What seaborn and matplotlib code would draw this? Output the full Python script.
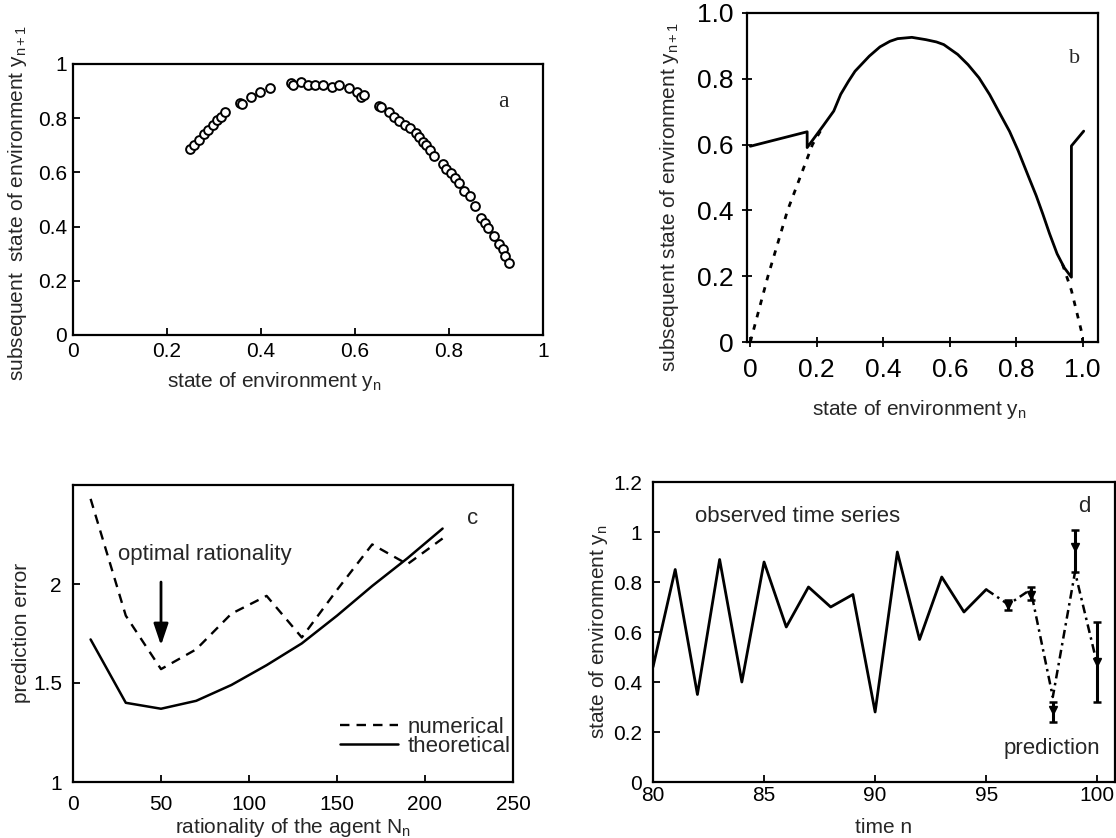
import pandas as pd
import seaborn as sns
import matplotlib.pyplot as plt

# ---- panel a: observed return map (y_n, y_n+1) ----
a_y_n = [0.248, 0.257, 0.269, 0.278, 0.288, 0.298, 0.307, 0.315, 0.324, 0.356,
         0.359, 0.379, 0.398, 0.419, 0.463, 0.468, 0.486, 0.501, 0.514, 0.532,
         0.551, 0.566, 0.587, 0.604, 0.613, 0.619, 0.650, 0.656, 0.673, 0.684,
         0.694, 0.707, 0.718, 0.730, 0.737, 0.745, 0.752, 0.760, 0.768, 0.787,
         0.794, 0.804, 0.813, 0.821, 0.832, 0.844, 0.855, 0.869, 0.877, 0.882,
         0.895, 0.907, 0.915, 0.920, 0.928]
a_y_next = [0.686, 0.700, 0.719, 0.743, 0.756, 0.774, 0.792, 0.805, 0.823, 0.856,
            0.851, 0.880, 0.898, 0.912, 0.929, 0.921, 0.933, 0.923, 0.921, 0.924,
            0.914, 0.923, 0.912, 0.896, 0.878, 0.886, 0.844, 0.841, 0.823, 0.804,
            0.790, 0.774, 0.762, 0.746, 0.729, 0.713, 0.701, 0.682, 0.660, 0.630,
            0.611, 0.599, 0.578, 0.560, 0.530, 0.512, 0.475, 0.432, 0.414, 0.395,
            0.367, 0.334, 0.316, 0.292, 0.267]

# ---- panel b: learned map (solid) and true map (dotted) ----
b_model_x = [0.0, 0.171, 0.171, 0.219, 0.251, 0.272, 0.295, 0.315, 0.358, 0.390,
             0.420, 0.443, 0.486, 0.528, 0.560, 0.582, 0.624, 0.655, 0.688, 0.720,
             0.752, 0.780, 0.806, 0.838, 0.860, 0.880, 0.900, 0.923, 0.945,
             0.966, 0.966, 1.003]
b_model_y = [0.595, 0.639, 0.591, 0.657, 0.702, 0.753, 0.792, 0.823, 0.869, 0.897,
             0.914, 0.922, 0.926, 0.919, 0.912, 0.904, 0.874, 0.843, 0.803, 0.752,
             0.692, 0.640, 0.581, 0.500, 0.445, 0.389, 0.330, 0.268, 0.225,
             0.197, 0.596, 0.641]
b_true_left_x = [0.0, 0.053, 0.112, 0.187, 0.219]
b_true_left_y = [0.0, 0.20, 0.40, 0.60, 0.655]
b_true_right_x = [0.939, 0.966, 0.998, 1.0]
b_true_right_y = [0.237, 0.157, 0.025, 0.0]

# ---- panel c: prediction error vs rationality ----
c_rationality = [10, 30, 50, 70, 90, 110, 130, 150, 170, 190, 210]
c_numerical = [2.43, 1.84, 1.57, 1.67, 1.85, 1.94, 1.73, 1.97, 2.20, 2.10, 2.23]
c_theoretical = [1.72, 1.40, 1.37, 1.41, 1.49, 1.59, 1.70, 1.84, 1.99, 2.13, 2.28]

# ---- panel d: time series and prediction ----
d_time = list(range(80, 96))
d_observed = [0.46, 0.85, 0.35, 0.89, 0.40, 0.88, 0.62, 0.78, 0.70, 0.75,
              0.28, 0.92, 0.57, 0.82, 0.68, 0.77]
d_future_time = [95, 96, 97, 98, 99, 100]
d_future = [0.77, 0.71, 0.77, 0.34, 0.84, 0.47]
d_pred_time = [96, 97, 98, 99, 100]
d_pred_mid = [0.71, 0.75, 0.29, 0.94, 0.48]
d_pred_lo = [0.69, 0.73, 0.24, 0.84, 0.32]
d_pred_hi = [0.73, 0.78, 0.32, 1.01, 0.64]

sns.set_theme(style="ticks")
plt.rcParams["font.family"] = ["Liberation Sans", "DejaVu Sans"]
plt.rcParams["axes.linewidth"] = 1.6
plt.rcParams["mathtext.fontset"] = "custom"
plt.rcParams["mathtext.rm"] = "Liberation Sans"
plt.rcParams["mathtext.it"] = "Liberation Sans"

fig = plt.figure(figsize=(11.16, 8.38), dpi=100)
W, H = 1116, 838


def box(l, t, r, b):
    return fig.add_axes([l / W, 1 - b / H, (r - l) / W, (b - t) / H])


def style(ax, size, pad_x, pad_y, direction="in"):
    for s in ax.spines.values():
        s.set_color("black")
    ax.tick_params(axis="both", direction=direction, length=5, width=1.3,
                   labelsize=size, colors="black")
    ax.tick_params(axis="x", pad=pad_x)
    ax.tick_params(axis="y", pad=pad_y)


def place_labels(ax, xlabel, ylabel, xpos, ypos, size):
    ax.set_xlabel(xlabel, fontsize=size, va="center")
    ax.set_ylabel(ylabel, fontsize=size, va="center")
    ax.xaxis.set_label_coords(*xpos)
    ax.yaxis.set_label_coords(*ypos)


# ---------- panel a ----------
ax_a = box(73, 64, 543, 335)
df_a = pd.DataFrame({"yn": a_y_n, "yn1": a_y_next})
sns.scatterplot(data=df_a, x="yn", y="yn1", ax=ax_a, marker="o", s=40,
                color="white", edgecolor="black", linewidth=1.4)
ax_a.set_xlim(0, 1)
ax_a.set_ylim(0, 1)
ticks01 = [0, 0.2, 0.4, 0.6, 0.8, 1]
ax_a.set_xticks(ticks01, ["0", "0.2", "0.4", "0.6", "0.8", "1"])
ax_a.set_yticks(ticks01, ["0", "0.2", "0.4", "0.6", "0.8", "1"])
style(ax_a, 15, 5, 4.5)
place_labels(ax_a, r"state of environment y$_{\mathrm{n}}$",
             r"subsequent  state of environment y$_{\mathrm{n+1}}$",
             (0.428, -0.170), (-0.119, 0.487), 15)
ax_a.text(0.916, 0.86, "a", transform=ax_a.transAxes, fontsize=17,
          family="Liberation Serif", ha="center", va="center")

# ---------- panel b ----------
ax_b = box(747, 13, 1098, 342)
df_model = pd.DataFrame({"x": b_model_x, "y": b_model_y})
df_left = pd.DataFrame({"x": b_true_left_x, "y": b_true_left_y})
df_right = pd.DataFrame({"x": b_true_right_x, "y": b_true_right_y})
sns.lineplot(data=df_model, x="x", y="y", ax=ax_b, estimator=None, sort=False,
             color="black", linewidth=2)
for d in (df_left, df_right):
    sns.lineplot(data=d, x="x", y="y", ax=ax_b, estimator=None, sort=False,
                 color="black", linewidth=2, linestyle=(0, (2, 2.6)))
ax_b.set_xlim(-0.01, 1.046)
ax_b.set_ylim(0, 1.0)
ax_b.set_xticks(ticks01, ["0", "0.2", "0.4", "0.6", "0.8", "1.0"])
ax_b.set_yticks(ticks01, ["0", "0.2", "0.4", "0.6", "0.8", "1.0"])
style(ax_b, 19, 8, 6, direction="inout")
ax_b.tick_params(length=7)
place_labels(ax_b, r"state of environment y$_{\mathrm{n}}$",
             r"subsequent state of environment y$_{\mathrm{n+1}}$",
             (0.49, -0.205), (-0.22, 0.442), 15)
ax_b.text(0.933, 0.862, "b", transform=ax_b.transAxes, fontsize=16,
          family="Liberation Serif", ha="center", va="center")

# ---------- panel c ----------
ax_c = box(73, 485, 513, 782)
df_c = pd.DataFrame({"N": c_rationality, "numerical": c_numerical,
                     "theoretical": c_theoretical})
sns.lineplot(data=df_c, x="N", y="numerical", ax=ax_c, color="black",
             linewidth=1.7, linestyle=(0, (4, 3)), label="numerical")
sns.lineplot(data=df_c, x="N", y="theoretical", ax=ax_c, color="black",
             linewidth=1.8, label="theoretical")
ax_c.set_xlim(0, 250)
ax_c.set_ylim(1, 2.5)
ax_c.set_xticks([0, 50, 100, 150, 200, 250])
ax_c.set_yticks([1, 1.5, 2], ["1", "1.5", "2"])
style(ax_c, 15, 9, 8)
place_labels(ax_c, r"rationality of the agent N$_{\mathrm{n}}$", "prediction error",
             (0.5, -0.152), (-0.117, 0.503), 15)
ax_c.legend(loc="lower right", bbox_to_anchor=(0.995, 0.085), frameon=False,
            fontsize=16, handlelength=2.6, handletextpad=0.45,
            labelspacing=-0.1, borderaxespad=0, borderpad=0)
ax_c.annotate("", xy=(50, 1.69), xytext=(50, 2.01),
              arrowprops=dict(arrowstyle="-|>,head_width=0.22,head_length=0.65",
                              color="black", lw=2, mutation_scale=20,
                              shrinkA=0, shrinkB=0))
ax_c.text(25.4, 2.15, "optimal rationality", fontsize=16, ha="left", va="center")
ax_c.text(227, 2.33, "c", fontsize=16, ha="center", va="center")

# ---------- panel d ----------
ax_d = box(653, 482, 1115, 782)
df_obs = pd.DataFrame({"n": d_time, "y": d_observed})
df_fut = pd.DataFrame({"n": d_future_time, "y": d_future})
sns.lineplot(data=df_obs, x="n", y="y", ax=ax_d, color="black", linewidth=2)
sns.lineplot(data=df_fut, x="n", y="y", ax=ax_d, color="black", linewidth=1.8,
             linestyle=(0, (3.5, 1.8, 1, 1.8)))
yerr = [[m - lo for m, lo in zip(d_pred_mid, d_pred_lo)],
        [hi - m for m, hi in zip(d_pred_mid, d_pred_hi)]]
ax_d.errorbar(d_pred_time, d_pred_mid, yerr=yerr, fmt="v", color="black",
              markersize=6, elinewidth=2.2, capsize=3, capthick=1.8)
ax_d.set_xlim(80, 100.8)
ax_d.set_ylim(0, 1.2)
ax_d.set_xticks([80, 85, 90, 95, 100])
ax_d.set_yticks([0, 0.2, 0.4, 0.6, 0.8, 1, 1.2],
                ["0", "0.2", "0.4", "0.6", "0.8", "1", "1.2"])
style(ax_d, 15, 3, 8)
place_labels(ax_d, "time n", r"state of environment y$_{\mathrm{n}}$",
             (0.5, -0.15), (-0.119, 0.5), 15)
ax_d.text(81.9, 1.063, "observed time series", fontsize=16, ha="left", va="center")
ax_d.text(95.8, 0.135, "prediction", fontsize=16, ha="left", va="center")
ax_d.text(99.4, 1.10, "d", fontsize=16, ha="center", va="center")

fig.savefig("out.png", dpi=100, facecolor="white")
